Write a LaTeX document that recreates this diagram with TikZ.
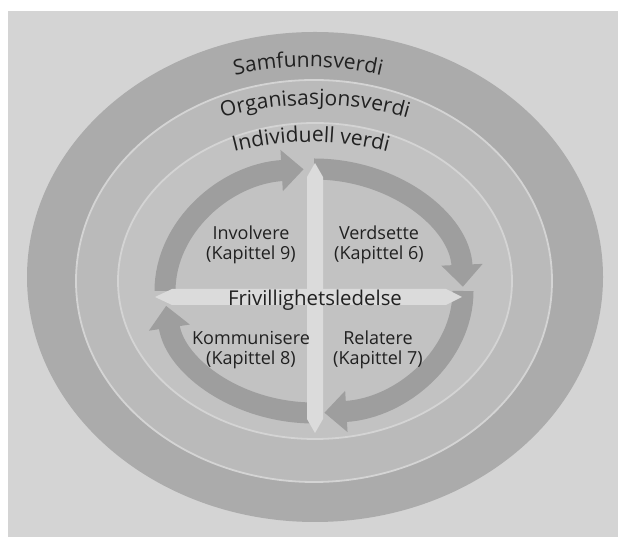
\documentclass[tikz,border=0pt]{standalone}
\usepackage{fontspec}
\setmainfont{Open Sans}
\usetikzlibrary{arrows.meta,decorations.text,calc}
\definecolor{side}{gray}{0.83}
\definecolor{ytre}{gray}{0.67}
\definecolor{midtre}{gray}{0.73}
\definecolor{indre}{gray}{0.76}
\definecolor{pilgraa}{gray}{0.62}
\definecolor{korsgraa}{gray}{0.86}
\definecolor{skille}{gray}{0.83}
\definecolor{tekst}{gray}{0.13}
\newcommand\buefont{\fontsize{21}{25}\selectfont\color{tekst}}
\begin{document}
\begin{tikzpicture}[x=1pt,y=1pt]
			\tikzstyle{ring}=[draw=skille,line width=1.8pt]
			\tikzstyle{pil}=[draw=pilgraa,line width=21pt,-{Triangle[width=40pt,length=22pt]}]
			\tikzstyle{kors}=[fill=korsgraa]
			\tikzstyle{etikett}=[text=tekst,font=\fontsize{18}{20}\selectfont,align=center]
			\tikzstyle{midtetikett}=[text=tekst,font=\fontsize{20.4}{24}\selectfont,anchor=base]
			\def\PilRx{149}
			\def\PilRy{122}
			\useasboundingbox (0,0) rectangle (618,537);
			\fill[white] (0,0) rectangle (618,537);
			\fill[side] (8,0) rectangle (618,526);
			% ringene
			\coordinate (PilSentrum) at (314,246);
			\fill[ytre] (315,260) ellipse[x radius=288,y radius=245];
			\filldraw[ring,fill=midtre] (314,256) ellipse[x radius=238,y radius=201];
			\filldraw[ring,fill=indre] (315,256) ellipse[x radius=197,y radius=158];
			% pilene
			\draw[pil] ($(PilSentrum)+(180:149 and 122)$) arc[start angle=180,end angle=94,x radius=\PilRx,y radius=\PilRy];
			\draw[pil] ($(PilSentrum)+(90:149 and 122)$) arc[start angle=90,end angle=2,x radius=\PilRx,y radius=\PilRy];
			\draw[pil] ($(PilSentrum)+(0:149 and 122)$) arc[start angle=0,end angle=-86,x radius=\PilRx,y radius=\PilRy];
			\draw[pil] ($(PilSentrum)+(-90:149 and 122)$) arc[start angle=-90,end angle=-173,x radius=\PilRx,y radius=\PilRy];
			% korset
			\fill[kors] (155,240) -- (172,248) -- (446,248) -- (462,240) -- (446,232) -- (172,232) -- cycle;
			\fill[kors] (315,374) -- (323,360) -- (323,118) -- (315,104) -- (307,118) -- (307,360) -- cycle;
			% buede titler
			\path[decorate,decoration={text along path,text align=center,text={|\buefont|Samfunnsverdi}}]
				($(308,257)+(160:265 and 213)$) arc[start angle=160,end angle=20,x radius=265,y radius=213];
			\path[decorate,decoration={text along path,text align=center,text={|\buefont|Organisasjonsverdi}}]
				($(315,257)+(160:246 and 175)$) arc[start angle=160,end angle=20,x radius=246,y radius=175];
			\path[decorate,decoration={text along path,text align=center,text={|\buefont|Individuell verdi}}]
				($(311,257)+(160:209 and 138)$) arc[start angle=160,end angle=20,x radius=209,y radius=138];
			% tekstene
			\node[midtetikett] (Ledelse) at (315,231) {Frivillighetsledelse};
			\node[etikett] (Involvere) at (251,292) {Involvere\\(Kapittel 9)};
			\node[etikett] (Verdsette) at (379,292) {Verdsette\\(Kapittel 6)};
			\node[etikett] (Kommunisere) at (251,187) {Kommunisere\\(Kapittel 8)};
			\node[etikett] (Relatere) at (378,187) {Relatere\\(Kapittel 7)};
		\end{tikzpicture}
\end{document}
